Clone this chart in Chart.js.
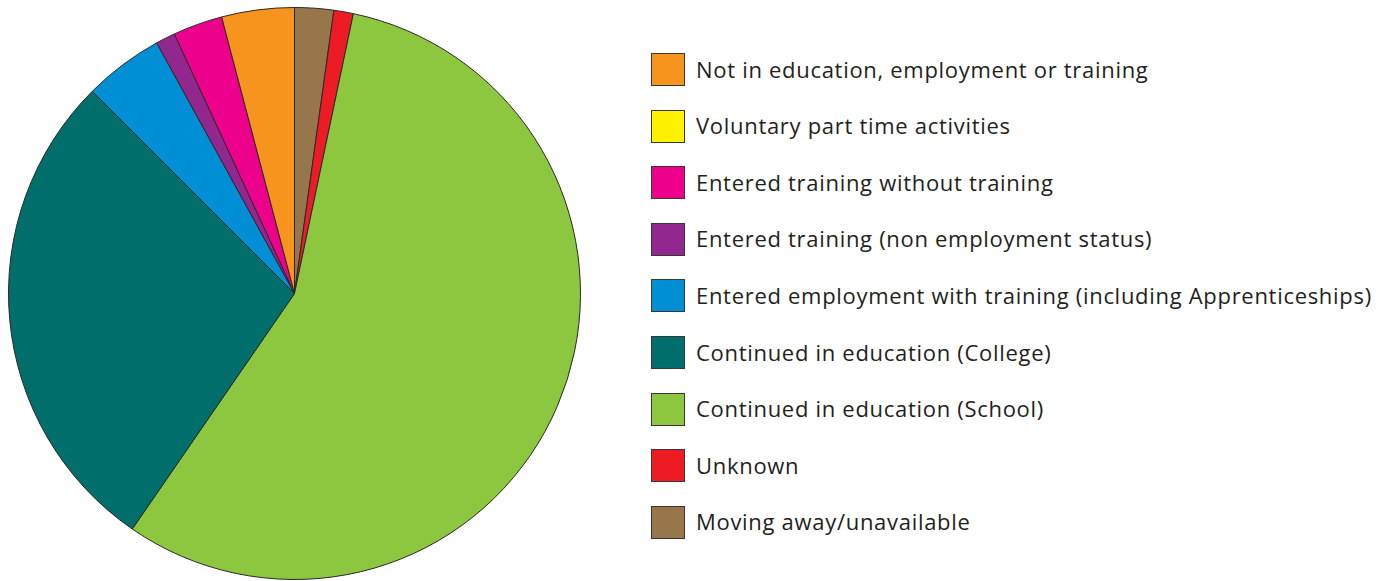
<!DOCTYPE html>
<html>
<head>
<meta charset="utf-8">
<script src="https://cdn.jsdelivr.net/npm/chart.js@4"></script>
<style>
  html, body { margin: 0; padding: 0; background: #ffffff; }
  #wrap { position: relative; width: 1391px; height: 581px; overflow: hidden; }
  #pieBox { position: absolute; left: 0; top: 0; width: 589px; height: 581px; }
  #legend { position: absolute; left: 651px; top: 0; font-family: "Open Sans", sans-serif; font-size: 22px; letter-spacing: 0.7px; color: #231f20; }
  .item { position: absolute; left: 0; height: 33px; display: flex; align-items: center; white-space: nowrap; }
  .swatch { width: 34px; height: 33px; box-sizing: border-box; border: 1px solid #3a3536; margin-right: 11px; flex: none; }
  .text { position: relative; top: -1px; }
</style>
</head>
<body>
<div id="wrap">
  <div id="pieBox"><canvas id="pie" width="589" height="581"></canvas></div>
  <div id="legend"></div>
</div>
<script>
// Destinations, listed in legend order
const categories = [
  "Not in education, employment or training",
  "Voluntary part time activities",
  "Entered training without training",
  "Entered training (non employment status)",
  "Entered employment with training (including Apprenticeships)",
  "Continued in education (College)",
  "Continued in education (School)",
  "Unknown",
  "Moving away/unavailable"
];

// Share of leavers in each destination (%)
const shares = [4.1, 0, 2.8, 1.1, 4.5, 27.9, 56.3, 1.1, 2.2];

const colours = [
  "#f7941e", "#fff200", "#ec008c", "#92278f", "#008fd5",
  "#006e6b", "#8dc63f", "#ed1c24", "#98764b"
];

// The pie runs clockwise from 12 o'clock starting with the last destination
const order = categories.map((_, i) => i).reverse();

new Chart(document.getElementById("pie"), {
  type: "pie",
  data: {
    labels: order.map(i => categories[i]),
    datasets: [{
      data: order.map(i => shares[i]),
      backgroundColor: order.map(i => colours[i]),
      borderColor: "#2b2728",
      borderWidth: 1
    }]
  },
  options: {
    responsive: false,
    animation: false,
    radius: 286,
    layout: { padding: { top: 6, bottom: 0, left: 0, right: 0 } },
    plugins: {
      legend: { display: false },
      tooltip: { enabled: false }
    }
  }
});

// Legend column beside the pie
const legend = document.getElementById("legend");
categories.forEach((name, i) => {
  const row = document.createElement("div");
  row.className = "item";
  row.style.top = (53 + i * 56.6) + "px";
  const sw = document.createElement("span");
  sw.className = "swatch";
  sw.style.background = colours[i];
  const label = document.createElement("span");
  label.className = "text";
  label.textContent = name;
  row.appendChild(sw);
  row.appendChild(label);
  legend.appendChild(row);
});
</script>
</body>
</html>
